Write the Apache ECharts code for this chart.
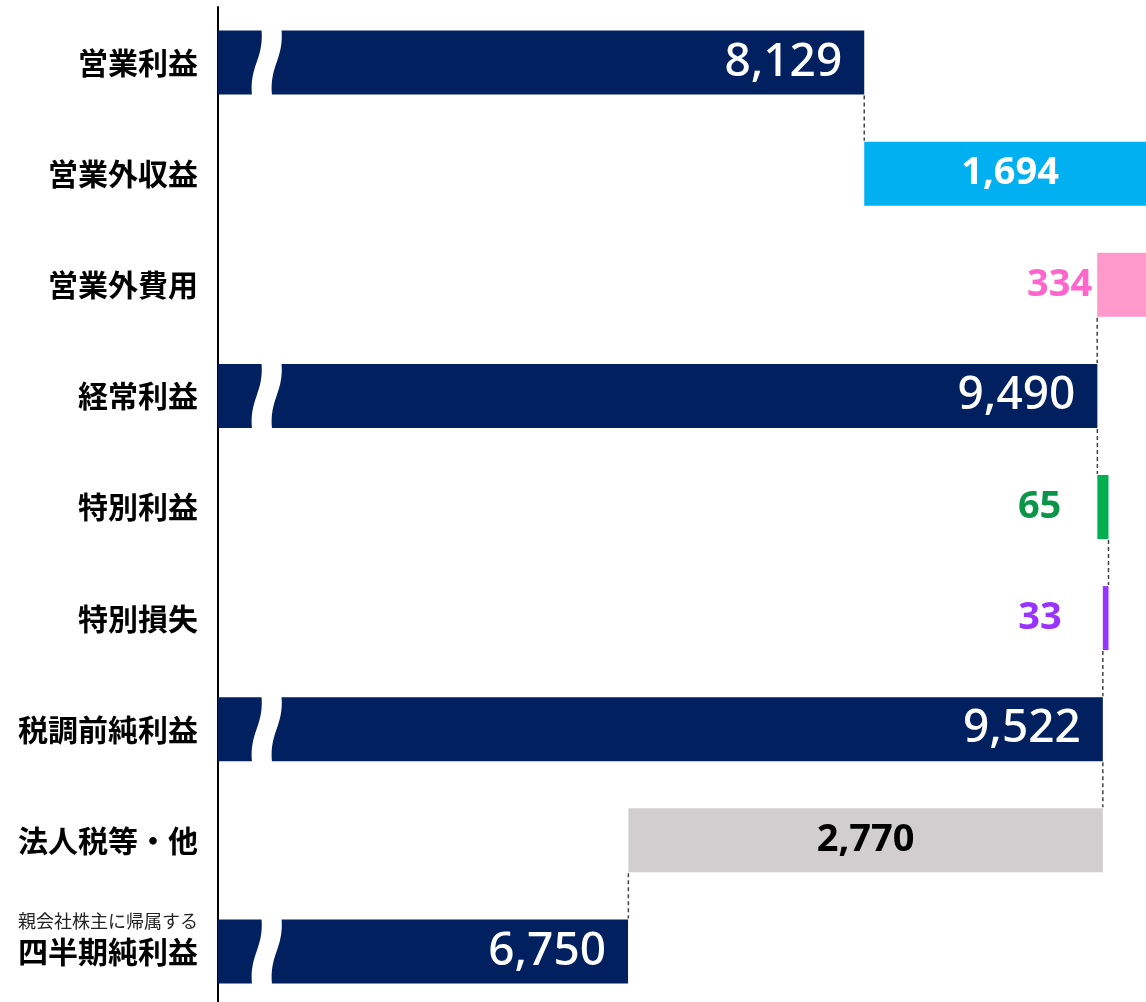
<!DOCTYPE html>
<html>
<head>
<meta charset="utf-8">
<script src="https://cdn.jsdelivr.net/npm/echarts@6/dist/echarts.min.js"></script>
<style>
    html, body { margin: 0; padding: 0; background: #fff; overflow: hidden; }
    #main { width: 1146px; height: 1012px; }
</style>
</head>
<body>
<div id="main"></div>
<script>
// 項目名（上から順）
let categories = ['営業利益', '営業外収益', '営業外費用', '経常利益', '特別利益', '特別損失', '税調前純利益', '法人税等・他', '親会社株主に帰属する\n四半期純利益'];
// 金額
let amounts = [8129, 1694, 334, 9490, 65, 33, 9522, 2770, 6750];
// total = 合計バー, up = 加算, down = 減算
let kinds = ['total', 'up', 'down', 'total', 'up', 'down', 'total', 'down', 'total'];

/////////////////////////////////////////////////////////////

// 色・ラベル設定
let barColors = ['#002060', '#00B0F0', '#FF99CC', '#002060', '#00B050', '#9933FF', '#002060', '#D0CECE', '#002060'];
let numFont = 'Noto Sans';
let totalLabel = { position: 'insideRight', distance: 22, color: '#fff', fontSize: 46, fontWeight: 500 };
let labelStyles = [
    totalLabel,
    { position: 'inside', offset: [5, 0], color: '#fff', fontSize: 38, fontWeight: 'bold' },
    { position: 'left', distance: 5, color: '#FF66CC', fontSize: 38, fontWeight: 'bold' },
    totalLabel,
    { position: 'left', distance: 36, color: '#0A9548', fontSize: 38, fontWeight: 'bold' },
    { position: 'left', distance: 41, color: '#9933FF', fontSize: 38, fontWeight: 'bold' },
    totalLabel,
    { position: 'inside', color: '#000', fontSize: 38, fontWeight: 'bold' },
    totalLabel
];
let barH = 64; // バーの太さ
let xMin = 4356, xMax = 9774; // 省略軸の表示範囲

// 3桁カンマ
function comma(v) {
    return String(v).replace(/\B(?=(\d{3})+(?!\d))/g, ',');
}

// ウォーターフォールの土台と累計を計算
let base = [], cum = [], run = 0;
for (let i = 0; i < amounts.length; i++) {
    if (kinds[i] === 'total') {
        base.push(0);
        run = amounts[i];
    } else if (kinds[i] === 'up') {
        base.push(run);
        run += amounts[i];
    } else {
        run -= amounts[i];
        base.push(run);
    }
    cum.push(run);
}

let valueData = amounts.map((v, i) => {
    return {
        value: v,
        itemStyle: { color: barColors[i] },
        label: Object.assign({ show: true, fontFamily: numFont, formatter: comma(v) }, labelStyles[i])
    };
});

// 省略マーク（合計バーのみ）
let breakData = [];
kinds.forEach((k, i) => { if (k === 'total') breakData.push([xMin, i]); });

// 破線コネクタ
let linkData = [];
for (let i = 0; i < amounts.length - 1; i++) linkData.push([cum[i], i]);

function bez(p0, p1, p2, p3, t) {
    let u = 1 - t;
    return u * u * u * p0 + 3 * u * u * t * p1 + 3 * u * t * t * p2 + t * t * t * p3;
}

function renderBreak(params, api) {
    let p = api.coord([api.value(0), api.value(1)]);
    let top = p[1] - barH / 2 - 1, h = barH + 2;
    let left = [], right = [];
    for (let s = 0; s <= 24; s++) {
        let t = s / 24;
        let cx = p[0] + bez(53.5, 56, 41, 44, t);
        let cy = top + h * bez(0, 0.45, 0.55, 1, t);
        left.push([cx - 10, cy]);
        right.unshift([cx + 10, cy]);
    }
    return {
        type: 'polygon',
        shape: { points: left.concat(right) },
        style: { fill: '#fff' },
        silent: true
    };
}

function renderLink(params, api) {
    let idx = api.value(1);
    let a = api.coord([api.value(0), idx]);
    let b = api.coord([api.value(0), idx + 1]);
    return {
        type: 'line',
        shape: { x1: a[0], y1: a[1] + barH / 2 + 1, x2: b[0], y2: b[1] - barH / 2 - 1 },
        style: { stroke: '#444', lineWidth: 1.5, lineDash: [4, 3] },
        silent: true
    };
}

let chart = echarts.init(document.getElementById('main'), null, { renderer: 'canvas' });
chart.setOption({
    animation: false,
    backgroundColor: '#fff',
    grid: { left: 218, right: 0, top: 7, height: 1000 },
    xAxis: {
        type: 'value',
        min: xMin,
        max: xMax,
        show: false
    },
    yAxis: {
        type: 'category',
        data: categories,
        inverse: true,
        axisLine: { show: true, lineStyle: { color: '#000', width: 2 } },
        axisTick: { show: false },
        splitLine: { show: false },
        axisLabel: {
            margin: 20,
            formatter: function (val) {
                if (val.indexOf('\n') >= 0) {
                    let parts = val.split('\n');
                    return '{s|' + parts[0] + '}\n{b|' + parts[1] + '}\n{s| }';
                }
                return '{b|' + val + '}';
            },
            rich: {
                b: { fontFamily: 'Noto Sans CJK JP', fontSize: 30, fontWeight: 'bold', color: '#000', lineHeight: 36 },
                s: { fontFamily: 'Noto Sans CJK JP', fontSize: 18, color: '#222', lineHeight: 24 }
            }
        }
    },
    series: [{
        name: 'base',
        type: 'bar',
        stack: 'wf',
        barWidth: barH,
        silent: true,
        itemStyle: { color: 'transparent' },
        data: base
    }, {
        name: 'value',
        type: 'bar',
        stack: 'wf',
        barWidth: barH,
        clip: true,
        data: valueData
    }, {
        name: 'break',
        type: 'custom',
        renderItem: renderBreak,
        data: breakData,
        z: 5
    }, {
        name: 'link',
        type: 'custom',
        renderItem: renderLink,
        data: linkData,
        z: 4
    }]
});
</script>
</body>
</html>
